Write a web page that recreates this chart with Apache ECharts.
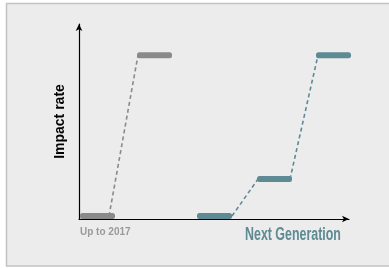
<!DOCTYPE html>
<html><head><meta charset="utf-8">
<script src="https://cdn.jsdelivr.net/npm/echarts@6/dist/echarts.min.js"></script>
<style>html,body{margin:0;padding:0;background:#fff}#c{width:389px;height:268px}</style>
</head><body><div id="c"></div>
<script>
// Stages: [xStart, xEnd, impactLevel]
const stagesNow = [[1, 36, 1.5], [58, 93, 84]];
const stagesNext = [[118, 153, 1.5], [178, 213, 20.5], [237, 272, 84]];
// Dashed connectors: [x, level]
const linkNow = [[30, 1.5], [59, 84]];
const linkNext = [[153, 1.5], [179, 20.5], [211, 20.5], [239, 84]];
const labelNow = 'Up to 2017';
const labelNext = 'Next Generation';
const yName = 'Impact rate';

const GREY = '#8a8a8a', TEAL = '#5e8a94';

function barSeries(data, color) {
  return {
    type: 'custom', clip: false, z: 3, data: data,
    renderItem: function (params, api) {
      const a = api.coord([api.value(0), api.value(2)]);
      const b = api.coord([api.value(1), api.value(2)]);
      return { type: 'rect', shape: { x: a[0], y: a[1] - 3, width: b[0] - a[0], height: 6, r: 2.5 },
               style: { fill: color } };
    }
  };
}
function linkSeries(data, color) {
  return { type: 'line', data: data, symbol: 'none', z: 2, clip: false,
    lineStyle: { color: color, width: 1.6, type: [4, 3] } };
}

const chart = echarts.init(document.getElementById('c'), null, { renderer: 'canvas' });
chart.setOption({
  backgroundColor: '#ffffff',
  animation: false,
  graphic: [
    { type: 'rect', z: -10, shape: { x: 6.5, y: 3.5, width: 390, height: 262.5 },
      style: { fill: '#ececec', stroke: '#c2c2c2', lineWidth: 1.5 } },
    { type: 'text', x: 80, y: 227, style: { text: labelNow, fill: '#9a9a9a',
      font: 'bold 10px "Liberation Sans", Arial, sans-serif' } },
    { type: 'text', x: 245, y: 226, scaleX: 0.69, style: { text: labelNext, fill: TEAL,
      font: 'bold 18px "Liberation Sans", Arial, sans-serif' } }
  ],
  grid: { left: 79, top: 24, width: 270, height: 195 },
  xAxis: { type: 'value', min: 0, max: 270, axisLine: { show: true, symbol: ['none', 'arrow'],
      symbolSize: [5, 7], lineStyle: { color: '#000', width: 1.2 } },
    axisTick: { show: false }, axisLabel: { show: false }, splitLine: { show: false } },
  yAxis: { type: 'value', min: 0, max: 100, name: yName, nameLocation: 'middle', nameGap: 12,
    nameRotate: 90,
    nameTextStyle: { color: '#000', fontWeight: 'bold', fontSize: 14, fontFamily: '"Liberation Sans", Arial, sans-serif' },
    axisLine: { show: true, symbol: ['none', 'arrow'], symbolSize: [5, 7], lineStyle: { color: '#000', width: 1.2 } },
    axisTick: { show: false }, axisLabel: { show: false }, splitLine: { show: false } },
  series: [
    linkSeries(linkNow, GREY),
    linkSeries(linkNext, TEAL),
    barSeries(stagesNow, GREY),
    barSeries(stagesNext, TEAL)
  ]
});
</script></body></html>
